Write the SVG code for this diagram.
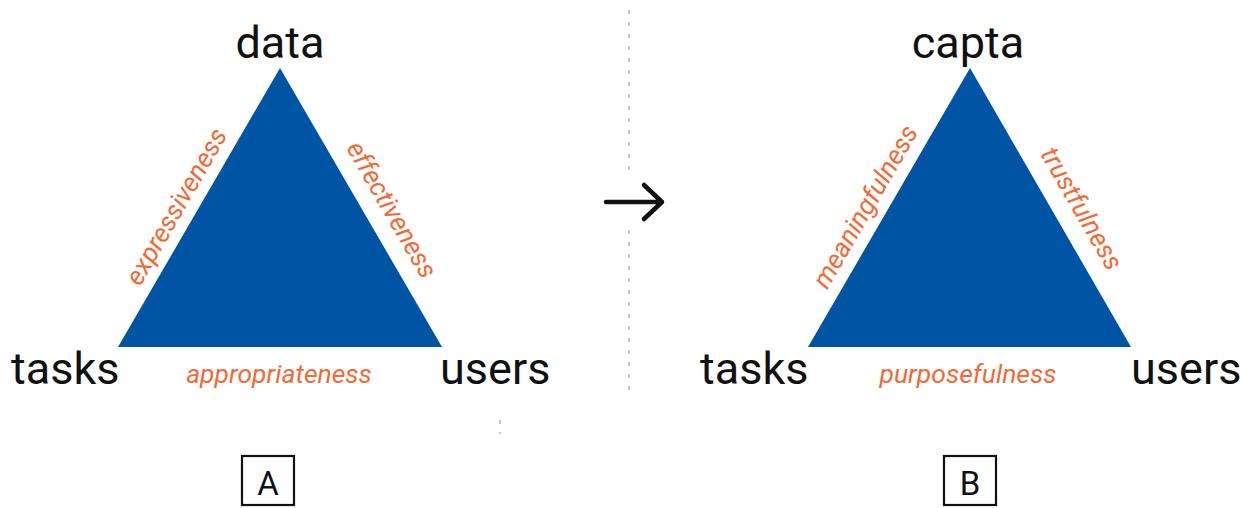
<svg xmlns="http://www.w3.org/2000/svg" width="1240" height="508" viewBox="0 0 1240 508">
<style>
.tri{fill:#0054a4}
.vert{font-family:Roboto,"Liberation Sans",sans-serif;font-size:45px;fill:#111}
.edge{font-family:Roboto,"Liberation Sans",sans-serif;font-size:26.5px;font-style:italic;fill:#f26a36}
.box{fill:none;stroke:#111;stroke-width:2.2}
.boxlbl{font-family:Roboto,"Liberation Sans",sans-serif;font-size:33px;fill:#111}
.sep{stroke:#c8c8c8;stroke-width:2;stroke-dasharray:4 8}
</style>
<rect width="1240" height="508" fill="#fff"/>
<g id="separator">
<line class="sep" x1="629" y1="10" x2="629" y2="174"/>
<line class="sep" x1="629" y1="230" x2="629" y2="390"/>
<line class="sep" x1="500" y1="420" x2="500" y2="434"/>
</g>
<g id="connectors">
<path d="M606 202 H662 M644 185 L662 202 L644 219" fill="none" stroke="#111" stroke-width="4.5" stroke-linecap="round" stroke-linejoin="round"/>
</g>
<g id="triangleA">
<polygon class="tri" points="280,68 118,347 442,347"/>
<text class="edge" transform="translate(184,211) rotate(-60)" text-anchor="middle">expressiveness</text>
<text class="edge" transform="translate(384,214) rotate(60)" text-anchor="middle">effectiveness</text>
<text class="edge" x="279" y="383" text-anchor="middle">appropriateness</text>
</g>
<g id="nodeA-data"><text class="vert" x="280" y="58" text-anchor="middle">data</text></g>
<g id="nodeA-tasks"><text class="vert" x="11" y="384">tasks</text></g>
<g id="nodeA-users"><text class="vert" x="440" y="384">users</text></g>
<g id="triangleB">
<polygon class="tri" points="970,68 808,347 1131,347"/>
<text class="edge" transform="translate(873,211) rotate(-60)" text-anchor="middle">meaningfulness</text>
<text class="edge" transform="translate(1074,213) rotate(60)" text-anchor="middle">trustfulness</text>
<text class="edge" x="968" y="383" text-anchor="middle">purposefulness</text>
</g>
<g id="nodeB-capta"><text class="vert" x="968" y="58" text-anchor="middle">capta</text></g>
<g id="nodeB-tasks"><text class="vert" x="700" y="384">tasks</text></g>
<g id="nodeB-users"><text class="vert" x="1131" y="384">users</text></g>
<g id="labelA">
<rect class="box" x="242" y="456" width="52" height="49"/>
<text class="boxlbl" x="268" y="495" text-anchor="middle">A</text>
</g>
<g id="labelB">
<rect class="box" x="944" y="456" width="52" height="49"/>
<text class="boxlbl" x="970" y="495" text-anchor="middle">B</text>
</g>
</svg>
